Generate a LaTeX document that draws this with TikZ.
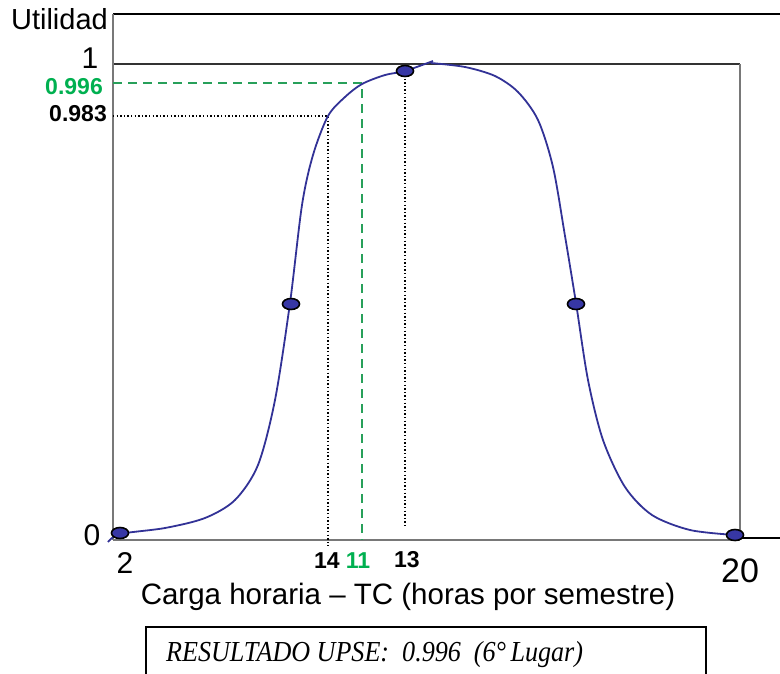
\documentclass[tikz,border=0pt]{standalone}
\usepackage{fontspec}
\setmainfont{Liberation Sans}
\newfontfamily\resfont{Liberation Serif}
\usetikzlibrary{shapes.geometric}
\definecolor{curveblue}{RGB}{50,50,150}
\definecolor{dotblue}{RGB}{55,55,165}
\definecolor{lgreen}{RGB}{0,176,80}
\definecolor{dgreen}{RGB}{40,160,90}
\definecolor{axgray}{RGB}{120,120,120}
\begin{document}
\begin{tikzpicture}[x=1pt,y=-1pt,
  curve/.style={draw=curveblue,line width=1.8pt},
  dotmark/.style={ellipse,draw=black,fill=dotblue,minimum width=17pt,minimum height=11pt,inner sep=0pt,line width=1.6pt},
  lbl/.style={inner sep=0pt,font=\fontsize{30}{30}\selectfont},
  bnum/.style={inner sep=0pt,font=\fontsize{23}{23}\selectfont\bfseries},
  xnum/.style={inner sep=0pt,font=\fontsize{23}{23}\selectfont\bfseries},
  dotguide/.style={draw=black,line width=1.4pt,dash pattern=on 1.4pt off 2.2pt},
  greenguide/.style={draw=dgreen,line width=2pt,dash pattern=on 9pt off 6pt},
  axline/.style={draw=axgray,line width=1.8pt},
  frame/.style={draw=black,line width=1.6pt}]
\useasboundingbox (0,0) rectangle (780,673);
% frame and axes
\coordinate (tl) at (113,14);
\coordinate (tr) at (780,14);
\coordinate (bl) at (113,540);
\coordinate (br) at (740,540);
\coordinate (itl) at (113,64);
\coordinate (itr) at (740,64);
\coordinate (bx) at (780,538);
\coordinate (bxs) at (740,538);
\draw[frame] (tl) -- (tr);
\draw[draw=black!80,line width=1.2pt] (itl) -- (itr);
\draw[axline] (itr) -- (br);
\draw[axline] (bl) -- (br);
\draw[frame] (bxs) -- (bx);
\draw[axline] (tl) -- (bl);
% guides
\coordinate (g1a) at (113,116);
\coordinate (g1b) at (328,116);
\coordinate (g1c) at (328,546);
\draw[dotguide] (g1a) -- (g1b) -- (g1c);
\coordinate (g2a) at (113,83);
\coordinate (g2b) at (362,83);
\coordinate (g2c) at (362,540);
\draw[greenguide] (g2a) -- (g2b) -- (g2c);
\coordinate (g3a) at (405,75);
\coordinate (g3b) at (405,526);
\draw[dotguide] (g3a) -- (g3b);
% curve
\draw[curve] plot[smooth,tension=0.5] coordinates {(108,542) (120,534) (165,528) (205,518) (235,500) (258,465) (275,400) (290,303) (302,205) (313,155) (328,116) (345,97) (362,84) (385,75) (405,71) (433,61)};
\draw[curve] plot[smooth,tension=0.5] coordinates {(431,63) (465,67) (495,76) (518,92) (538,120) (553,167) (565,236) (576,303) (588,380) (603,440) (625,487) (652,515) (690,530) (735,535)};
% dots
\node[dotmark] (d1) at (120,533) {};
\node[dotmark] (d2) at (291,304) {};
\node[dotmark] (d3) at (405,71) {};
\node[dotmark] (d4) at (576,304) {};
\node[dotmark] (d5) at (735,535) {};
% labels
\node[lbl,anchor=base east,font=\fontsize{29}{29}\selectfont] (util) at (108,29) {Utilidad};
\node[lbl,anchor=base] (one) at (90,68) {1};
\node[lbl,anchor=base] (zero) at (92,545) {0};
\node[bnum,anchor=base east,text=lgreen] (v996) at (103,94) {0.996};
\node[bnum,anchor=base east] (v983) at (107,121) {0.983};
\node[lbl,anchor=base] (x2) at (125,573) {2};
\node[lbl,anchor=base,font=\fontsize{34}{34}\selectfont] (x20) at (740,582) {20};
\node[xnum,anchor=base] (x14) at (327,568) {14};
\node[xnum,anchor=base,text=lgreen] (x11) at (358,568) {11};
\node[xnum,anchor=base] (x13) at (407,567) {13};
\node[lbl,anchor=base,font=\fontsize{29.5}{29.5}\selectfont] (xtitle) at (408,604) {Carga horaria -- TC (horas por semestre)};
% result box
\coordinate (rb1) at (146,627);
\coordinate (rb2) at (706,700);
\draw[frame] (rb1) rectangle (rb2);
\node[inner sep=0pt,anchor=base west,font=\resfont\itshape\fontsize{29}{29}\selectfont] (res) at (166,661) {\scalebox{0.9}[1]{RESULTADO UPSE:\ \ 0.996\ \ (6°\,Lugar)}};
\end{tikzpicture}
\end{document}
